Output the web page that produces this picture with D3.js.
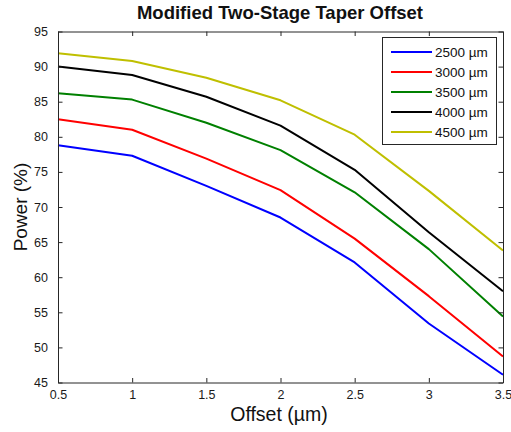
<!DOCTYPE html>
<html>
<head>
<meta charset="utf-8">
<script src="https://cdn.jsdelivr.net/npm/d3@7/dist/d3.min.js"></script>
<style>
  html, body { margin: 0; padding: 0; background: #fff; }
  svg { display: block; font-family: "Liberation Sans", Arial, sans-serif; }
</style>
</head>
<body>
<svg id="chart" width="511" height="432"></svg>
<script>
// Offset positions (µm)
const offsets = [0.5, 1, 1.5, 2, 2.5, 3, 3.5];

// Transmitted power (%) for each taper length
const power2500 = [78.8, 77.3, 73.0, 68.5, 62.1, 53.4, 46.1];
const power3000 = [82.5, 81.0, 76.9, 72.4, 65.5, 57.3, 48.7];
const power3500 = [86.2, 85.3, 82.0, 78.1, 72.1, 64.0, 54.4];
const power4000 = [90.0, 88.8, 85.7, 81.6, 75.3, 66.4, 58.0];
const power4500 = [91.9, 90.8, 88.4, 85.2, 80.3, 72.3, 63.8];

const seriesNames = ["2500 \u00b5m", "3000 \u00b5m", "3500 \u00b5m", "4000 \u00b5m", "4500 \u00b5m"];
const seriesColors = ["#0000ff", "#ff0000", "#008000", "#000000", "#bfbf00"];

const xTicks = [0.5, 1, 1.5, 2, 2.5, 3, 3.5];
const yTicks = [45, 50, 55, 60, 65, 70, 75, 80, 85, 90, 95];

const series = [power2500, power3000, power3500, power4000, power4500].map((vals, i) => ({
  name: seriesNames[i],
  color: seriesColors[i],
  points: vals.map((v, j) => ({ x: offsets[j], y: v }))
}));

const svg = d3.select("#chart");
const plot = { left: 58, right: 503, top: 31.5, bottom: 382.5 };

const x = d3.scaleLinear().domain([0.5, 3.5]).range([plot.left, plot.right]);
const y = d3.scaleLinear().domain([45, 95]).range([plot.bottom, plot.top]);

const tickLen = 4.5;
const axisColor = "#262626";

// Data lines
const line = d3.line().x(d => x(d.x)).y(d => y(d.y));
svg.append("g")
  .selectAll("path")
  .data(series)
  .join("path")
  .attr("d", d => line(d.points))
  .attr("fill", "none")
  .attr("stroke", d => d.color)
  .attr("stroke-width", 2)
  .attr("stroke-linejoin", "round");

// Axes: ticks point inward on all four sides
function styleAxis(g) {
  g.select(".domain").attr("stroke", axisColor).attr("stroke-width", 1);
  g.selectAll(".tick line").attr("stroke", axisColor);
  g.selectAll(".tick text").attr("fill", "#1a1a1a").attr("font-size", 12.5)
    .attr("font-family", "Liberation Sans, Arial, sans-serif");
}

svg.append("g")
  .attr("transform", `translate(0,${plot.bottom})`)
  .call(d3.axisBottom(x).tickValues(xTicks).tickFormat(d3.format("")).tickSizeInner(-tickLen).tickSizeOuter(0).tickPadding(8))
  .call(styleAxis);

svg.append("g")
  .attr("transform", `translate(0,${plot.top})`)
  .call(d3.axisTop(x).tickValues(xTicks).tickFormat("").tickSizeInner(-tickLen).tickSizeOuter(0))
  .call(styleAxis);

svg.append("g")
  .attr("transform", `translate(${plot.left},0)`)
  .call(d3.axisLeft(y).tickValues(yTicks).tickFormat(d3.format("")).tickSizeInner(-tickLen).tickSizeOuter(0).tickPadding(10))
  .call(styleAxis);

svg.append("g")
  .attr("transform", `translate(${plot.right},0)`)
  .call(d3.axisRight(y).tickValues(yTicks).tickFormat("").tickSizeInner(-tickLen).tickSizeOuter(0))
  .call(styleAxis);

// Title and axis labels
svg.append("text")
  .attr("x", 280)
  .attr("y", 19)
  .attr("text-anchor", "middle")
  .attr("font-size", 18.5)
  .attr("font-weight", "bold")
  .attr("fill", "#111")
  .text("Modified Two-Stage Taper Offset");

svg.append("text")
  .attr("x", 279)
  .attr("y", 421)
  .attr("text-anchor", "middle")
  .attr("font-size", 19.5)
  .attr("fill", "#111")
  .text("Offset (\u00b5m)");

svg.append("text")
  .attr("transform", "translate(27,207) rotate(-90)")
  .attr("text-anchor", "middle")
  .attr("font-size", 19)
  .attr("fill", "#111")
  .text("Power (%)");

// Legend
const legend = svg.append("g");
const lg = { x: 382, y: 37, w: 114, h: 107, row: 20, first: 15 };
legend.append("rect")
  .attr("x", lg.x + 0.5).attr("y", lg.y + 0.5)
  .attr("width", lg.w).attr("height", lg.h)
  .attr("fill", "#fff").attr("stroke", axisColor).attr("stroke-width", 1);

const items = legend.selectAll("g.item")
  .data(series)
  .join("g")
  .attr("class", "item")
  .attr("transform", (d, i) => `translate(${lg.x},${lg.y + lg.first + i * lg.row})`);

items.append("line")
  .attr("x1", 9).attr("x2", 50)
  .attr("y1", 0).attr("y2", 0)
  .attr("stroke", d => d.color)
  .attr("stroke-width", 2);

items.append("text")
  .attr("x", 53)
  .attr("y", 0)
  .attr("dy", "0.35em")
  .attr("font-size", 13.5)
  .attr("fill", "#111")
  .text(d => d.name);
</script>
</body>
</html>
